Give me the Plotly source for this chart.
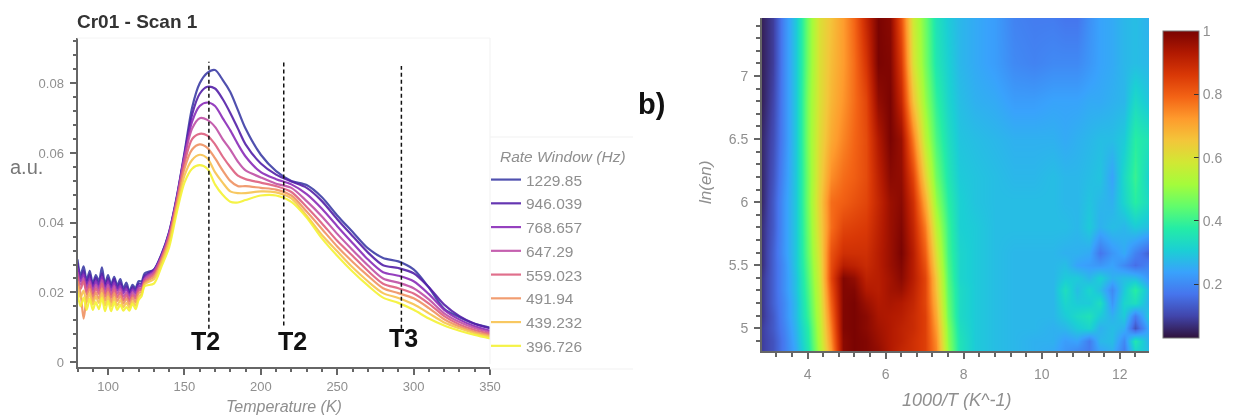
import plotly.graph_objects as go

W, H = 1241, 416

# ---------- left panel data ----------
temperature = [80,82,84,86,88,90,92,94,96,98,100,102,104,106,108,110,112,114,116,118,120,122,124,
               130,135,140,145,150,155,160,165,170,175,180,185,190,200,210,220,230,240,250,260,270,280,290,300,310,320,330,340,350]
rate_labels = ["1229.85","946.039","768.657","647.29","559.023","491.94","439.232","396.726"]
rate_colors = ["#3d3ea6","#5420a8","#8a2cb8","#bf4fa6","#dd5f7f","#ef9262","#f7c250","#f4f233"]

s1 = [.0295,.0250,.0275,.0235,.0262,.0225,.0250,.0232,.0272,.0225,.0250,.0222,.0245,.0220,.0238,.0212,.0228,.0202,.0222,.0212,.0232,.0232,.0255,
      .0265,.0310,.0374,.0475,.0600,.0730,.0800,.0830,.0838,.0810,.0775,.0723,.0670,.0595,.0548,.0520,.0508,.0473,.0421,.0374,.0327,.0299,.0289,.0266,.0214,.0153,.0129,.0110,.0099]
s2 = [.0285,.0240,.0262,.0225,.0252,.0218,.0242,.0222,.0255,.0218,.0240,.0215,.0238,.0212,.0228,.0205,.0218,.0198,.0215,.0205,.0225,.0225,.0248,
      .0265,.0308,.0372,.0472,.0595,.0710,.0770,.0790,.0785,.0755,.0715,.0670,.0625,.0570,.0538,.0518,.0500,.0462,.0410,.0362,.0315,.0278,.0270,.0255,.0215,.0165,.0132,.0110,.0097]
s3 = [.0270,.0232,.0252,.0215,.0240,.0208,.0232,.0212,.0245,.0208,.0232,.0205,.0228,.0205,.0218,.0198,.0210,.0190,.0208,.0198,.0218,.0218,.0242,
      .0262,.0305,.0370,.0470,.0590,.0690,.0735,.0745,.0735,.0700,.0665,.0625,.0590,.0545,.0525,.0510,.0482,.0440,.0390,.0342,.0295,.0258,.0248,.0232,.0195,.0150,.0122,.0103,.0090]
s4 = [.0258,.0222,.0240,.0205,.0232,.0198,.0222,.0205,.0235,.0198,.0222,.0195,.0218,.0196,.0210,.0188,.0200,.0182,.0200,.0190,.0212,.0212,.0238,
      .0258,.0302,.0366,.0465,.0585,.0670,.0700,.0695,.0675,.0640,.0610,.0575,.0550,.0530,.0512,.0500,.0462,.0418,.0368,.0322,.0278,.0240,.0228,.0212,.0180,.0140,.0115,.0098,.0086]
s5 = [.0245,.0210,.0232,.0195,.0222,.0188,.0212,.0195,.0225,.0188,.0212,.0185,.0208,.0186,.0200,.0178,.0192,.0175,.0192,.0182,.0205,.0208,.0232,
      .0252,.0298,.0360,.0460,.0570,.0640,.0655,.0650,.0625,.0590,.0560,.0535,.0525,.0515,.0505,.0488,.0445,.0398,.0348,.0305,.0262,.0225,.0212,.0197,.0168,.0132,.0108,.0092,.0081]
s6 = [.0232,.0198,.0125,.0185,.0210,.0176,.0200,.0182,.0212,.0176,.0200,.0172,.0198,.0175,.0190,.0168,.0182,.0165,.0185,.0172,.0198,.0202,.0228,
      .0245,.0292,.0352,.0452,.0555,.0610,.0625,.0615,.0585,.0550,.0520,.0505,.0505,.0500,.0495,.0478,.0432,.0382,.0332,.0288,.0248,.0212,.0198,.0183,.0155,.0123,.0102,.0087,.0077]
s7 = [.0218,.0185,.0205,.0172,.0198,.0165,.0188,.0170,.0198,.0162,.0188,.0160,.0185,.0162,.0178,.0158,.0170,.0156,.0175,.0162,.0188,.0196,.0224,
      .0238,.0285,.0344,.0442,.0535,.0580,.0595,.0585,.0545,.0515,.0490,.0485,.0485,.0490,.0487,.0470,.0420,.0365,.0318,.0272,.0232,.0198,.0184,.0166,.0140,.0114,.0097,.0083,.0073]
s8 = [.0200,.0160,.0185,.0150,.0182,.0150,.0172,.0152,.0185,.0146,.0175,.0146,.0172,.0150,.0165,.0148,.0158,.0148,.0168,.0152,.0178,.0190,.0218,
      .0225,.0275,.0330,.0430,.0515,.0555,.0565,.0555,.0510,.0480,.0460,.0458,.0465,.0478,.0478,.0460,.0415,.0355,.0305,.0260,.0220,.0185,.0170,.0150,.0125,.0105,.0090,.0078,.0068]
series = [s1, s2, s3, s4, s5, s6, s7, s8]

marker_t = [166, 215, 292]
marker_top = [.0862, .0862, .0850]
marker_bottom = [.0096, .0105, .0096]
marker_names = ["T2", "T2", "T3"]
marker_label_t = [163.5, 220.5, 293.5]
marker_label_v = [.0062, .0062, .0068]

# ---------- right panel data ----------
inv_t = [2.83,3.1,3.4,3.7,4.0,4.3,4.6,4.9,5.2,5.5,5.8,6.1,6.4,6.7,7.0,7.3,7.6,7.9,8.3,8.8,9.3,9.8,10.3,10.6,10.9,11.2,11.5,11.8,12.1,12.4,12.75]
ln_en = [4.82,4.9,5.0,5.1,5.2,5.3,5.4,5.5,5.6,5.8,6.0,6.2,6.5,6.8,7.1,7.46]
r482 = [.09,.12,.18,.25,.36,.52,.72,.98,1.0,.99,.97,.93,.90,.88,.85,.75,.50,.35,.30,.28,.27,.26,.25,.22,.20,.18,.24,.26,.18,.32,.28]
r490 = [.09,.12,.18,.26,.37,.53,.74,.98,1.0,.99,.96,.93,.91,.88,.85,.74,.49,.35,.30,.28,.27,.26,.26,.23,.24,.18,.27,.28,.20,.36,.26]
r500 = [.09,.13,.19,.27,.38,.54,.76,.99,1.0,.98,.95,.93,.91,.89,.85,.72,.48,.34,.30,.28,.27,.27,.26,.27,.30,.32,.26,.28,.26,.12,.25]
r510 = [.08,.13,.20,.28,.40,.55,.78,.99,1.0,.98,.94,.93,.92,.89,.85,.70,.46,.33,.30,.28,.27,.27,.27,.30,.33,.35,.30,.26,.30,.18,.30]
r520 = [.08,.14,.20,.28,.41,.56,.80,.99,1.0,.96,.93,.94,.93,.90,.84,.68,.45,.33,.30,.28,.27,.27,.27,.32,.30,.30,.34,.22,.32,.34,.26]
r530 = [.08,.14,.21,.29,.42,.57,.82,.99,.99,.93,.92,.95,.96,.91,.84,.66,.44,.33,.30,.28,.27,.27,.27,.34,.28,.32,.28,.20,.30,.38,.27]
r540 = [.08,.14,.21,.29,.43,.58,.84,.99,.97,.91,.92,.95,.98,.92,.84,.65,.43,.32,.30,.28,.27,.27,.27,.30,.30,.27,.31,.26,.28,.28,.22]
r550 = [.07,.14,.21,.30,.44,.59,.83,.92,.91,.89,.92,.96,.99,.92,.82,.62,.42,.32,.30,.28,.27,.27,.27,.28,.24,.23,.22,.24,.20,.16,.19]
r560 = [.07,.14,.22,.30,.45,.60,.82,.88,.88,.88,.92,.96,1.0,.92,.80,.60,.41,.32,.30,.28,.27,.27,.27,.26,.26,.25,.17,.22,.25,.19,.14]
r580 = [.07,.13,.22,.30,.46,.62,.78,.84,.85,.86,.91,.96,.99,.90,.76,.55,.40,.31,.30,.28,.28,.28,.28,.28,.27,.30,.26,.28,.27,.30,.28]
r600 = [.06,.13,.22,.30,.47,.63,.78,.80,.82,.84,.90,.96,.98,.88,.70,.50,.38,.31,.29,.28,.28,.28,.28,.27,.27,.29,.27,.26,.32,.38,.33]
r620 = [.06,.12,.21,.30,.47,.62,.74,.78,.80,.83,.91,.98,.97,.84,.63,.46,.36,.30,.29,.28,.27,.27,.28,.27,.27,.28,.29,.24,.33,.40,.31]
r650 = [.06,.11,.20,.30,.48,.61,.70,.75,.79,.83,.93,1.0,.96,.76,.55,.42,.34,.29,.28,.27,.26,.26,.26,.25,.26,.27,.28,.28,.30,.38,.35]
r680 = [.05,.10,.20,.30,.48,.60,.68,.73,.78,.84,.97,1.0,.90,.66,.50,.39,.32,.28,.26,.25,.23,.23,.24,.24,.24,.25,.25,.26,.27,.33,.29]
r710 = [.05,.09,.20,.30,.47,.60,.67,.72,.78,.87,1.0,.99,.86,.60,.47,.36,.31,.27,.25,.23,.20,.19,.20,.20,.20,.22,.24,.25,.27,.28,.27]
r746 = [.05,.09,.20,.30,.47,.60,.66,.72,.79,.90,1.0,.98,.82,.58,.46,.35,.30,.27,.25,.23,.19,.18,.18,.17,.17,.21,.24,.25,.27,.28,.26]
heat = [r482,r490,r500,r510,r520,r530,r540,r550,r560,r580,r600,r620,r650,r680,r710,r746]

GREY = "#8f8f8f"
AXIS = "#666666"
FONT = "Liberation Sans, Arial, sans-serif"

def px(x): return x / W
def py(y): return 1 - y / H

fig = go.Figure()

for name, col, vals in zip(rate_labels, rate_colors, series):
    fig.add_trace(go.Scatter(x=temperature, y=vals, name=name, mode="lines", legendgroup=name,
                             line=dict(color=col, width=2.2, shape="spline", smoothing=0.8),
                             opacity=0.9, xaxis="x", yaxis="y"))

fig.add_trace(go.Heatmap(x=inv_t, y=ln_en, z=heat, colorscale="Turbo", zmin=0.03, zmax=1.0, zsmooth="best",
                         xaxis="x2", yaxis="y2", showscale=True,
                         colorbar=dict(x=px(1163), xanchor="left", y=py(338), yanchor="bottom",
                                       lenmode="pixels", len=307, thicknessmode="pixels", thickness=36,
                                       xpad=0, ypad=0, outlinecolor="#777777", outlinewidth=1,
                                       tickvals=[.2,.4,.6,.8,1], ticktext=["0.2","0.4","0.6","0.8","1"],
                                       tickprefix="\u00a0\u00a0",
                                       ticks="inside", ticklen=5, tickcolor="#333333",
                                       tickfont=dict(family=FONT, size=14, color=GREY))))

shapes = []
for t, top, bot in zip(marker_t, marker_top, marker_bottom):
    shapes.append(dict(type="line", xref="x", yref="y", x0=t, x1=t, y0=bot, y1=top,
                       line=dict(color="#111111", width=1.5, dash="4px,3px")))
for y in (137, 369):
    shapes.append(dict(type="line", xref="paper", yref="paper", x0=px(490), x1=px(633), y0=py(y), y1=py(y),
                       line=dict(color="#f1f1f1", width=1)))
shapes.append(dict(type="line", xref="paper", yref="paper", x0=px(490), x1=px(490), y0=py(38), y1=py(364),
                   line=dict(color="#f1f1f1", width=1)))
shapes.append(dict(type="line", xref="paper", yref="paper", x0=px(77), x1=px(490), y0=py(38), y1=py(38),
                   line=dict(color="#f4f4f4", width=1)))

ann = []
for t, v, n in zip(marker_label_t, marker_label_v, marker_names):
    ann.append(dict(x=t, y=v, xref="x", yref="y", text=f"<b>{n}</b>", showarrow=False,
                    font=dict(family=FONT, size=25, color="#111111")))
def text(x, y, s, size, color=GREY, rot=0, anchor="center"):
    ann.append(dict(x=px(x), y=py(y), xref="paper", yref="paper", text=s, showarrow=False, textangle=rot,
                    xanchor=anchor, yanchor="middle", font=dict(family=FONT, size=size, color=color)))
text(75, 21, "<b>Cr01 - Scan 1</b>", 19, "#333333", anchor="left")
text(26, 167, "a.u.", 20, "#777777")
text(284, 406, "<i>Temperature (K)</i>", 16)
text(957, 400, "<i>1000/T (K^-1)</i>", 18)
text(705, 183, "<i>ln(en)</i>", 17, rot=-90)
text(651, 104, "<b>b)</b>", 29, "#111111")
text(498, 156, "<i>Rate Window (Hz)</i>", 15.5, anchor="left")

def axis(**kw):
    d = dict(showgrid=False, zeroline=False, showline=True, linecolor=AXIS, linewidth=2,
             ticks="outside", ticklen=6, tickcolor=AXIS, tickwidth=1.5,
             tickfont=dict(family=FONT, size=13, color=GREY))
    d.update(kw)
    return d

BIG = dict(family=FONT, size=14, color=GREY)
fig.update_layout(
    width=W, height=H, autosize=False, margin=dict(l=0, r=0, t=0, b=0, autoexpand=False),
    paper_bgcolor="white", plot_bgcolor="white", shapes=shapes, annotations=ann,
    xaxis=axis(domain=[px(77.5), px(490)], range=[80, 350], anchor="y", tickmode="array",
               tickvals=[100,150,200,250,300,350], minor=dict(dtick=10, ticks="outside", ticklen=3, tickcolor=AXIS)),
    yaxis=axis(domain=[py(367), py(38)], range=[-.0014, .0930], anchor="x", tickmode="array", ticklabelstandoff=3,
               tickvals=[0,.02,.04,.06,.08], ticktext=["0","0.02","0.04","0.06","0.08"],
               minor=dict(dtick=.004, ticks="outside", ticklen=3, tickcolor=AXIS)),
    xaxis2=axis(domain=[px(762), px(1149)], range=[2.83, 12.75], anchor="y2", tickmode="array", tickfont=BIG, ticklabelstandoff=3,
                tickvals=[4,6,8,10,12], minor=dict(dtick=.4, ticks="outside", ticklen=4, tickcolor=AXIS)),
    yaxis2=axis(domain=[py(351), py(18)], range=[4.82, 7.46], anchor="x2", tickmode="array", tickfont=BIG, ticklabelstandoff=3,
                tickvals=[5,5.5,6,6.5,7], ticktext=["5","5.5","6","6.5","7"],
                minor=dict(dtick=.1, ticks="outside", ticklen=4, tickcolor=AXIS)),
    legend=dict(x=px(486), y=py(163), xanchor="left", yanchor="top", traceorder="grouped", tracegroupgap=0.6,
                bgcolor="rgba(0,0,0,0)", font=dict(family=FONT, size=15.5, color=GREY)),
    showlegend=True,
)

fig.write_html("out.html", config=dict(displayModeBar=False, responsive=False),
               post_script="document.body.style.margin='0';document.body.style.overflow='hidden';document.body.style.filter='blur(0.5px)';")
